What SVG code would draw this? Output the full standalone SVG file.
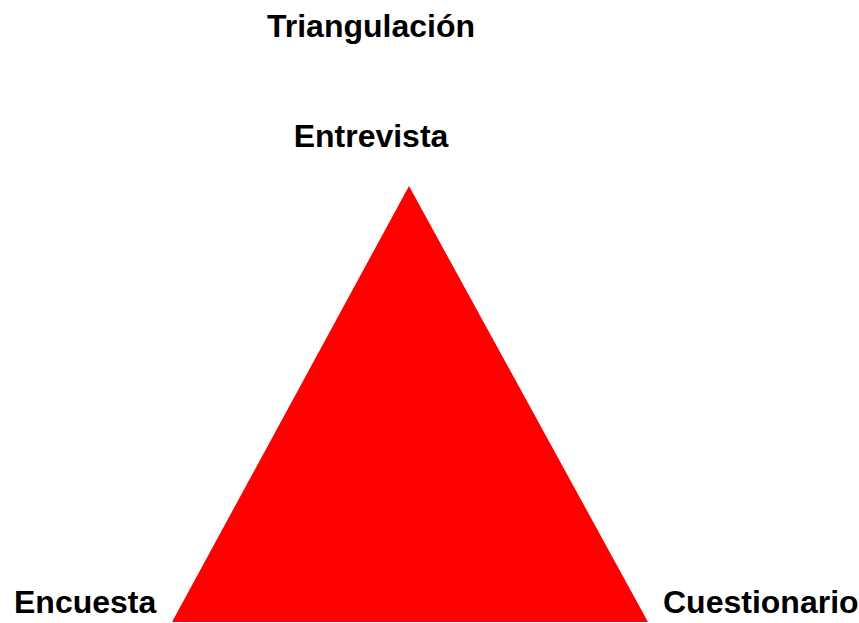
<svg xmlns="http://www.w3.org/2000/svg" width="859" height="623" viewBox="0 0 859 623">
<style>
.lbl{font-family:"Liberation Sans",Arial,sans-serif;font-weight:bold;font-size:32px;fill:#000}
</style>
<rect width="859" height="623" fill="#fff"/>
<text class="lbl" x="371" y="37" text-anchor="middle">Triangulación</text>
<g id="triangle">
<polygon points="409,186 172,622 648,622" fill="#ff0000"/>
</g>
<g id="entrevista"><text class="lbl" x="371" y="147" text-anchor="middle">Entrevista</text></g>
<g id="encuesta"><text class="lbl" x="14" y="613">Encuesta</text></g>
<g id="cuestionario"><text class="lbl" x="663" y="613">Cuestionario</text></g>
<g id="connectors"></g>
</svg>
